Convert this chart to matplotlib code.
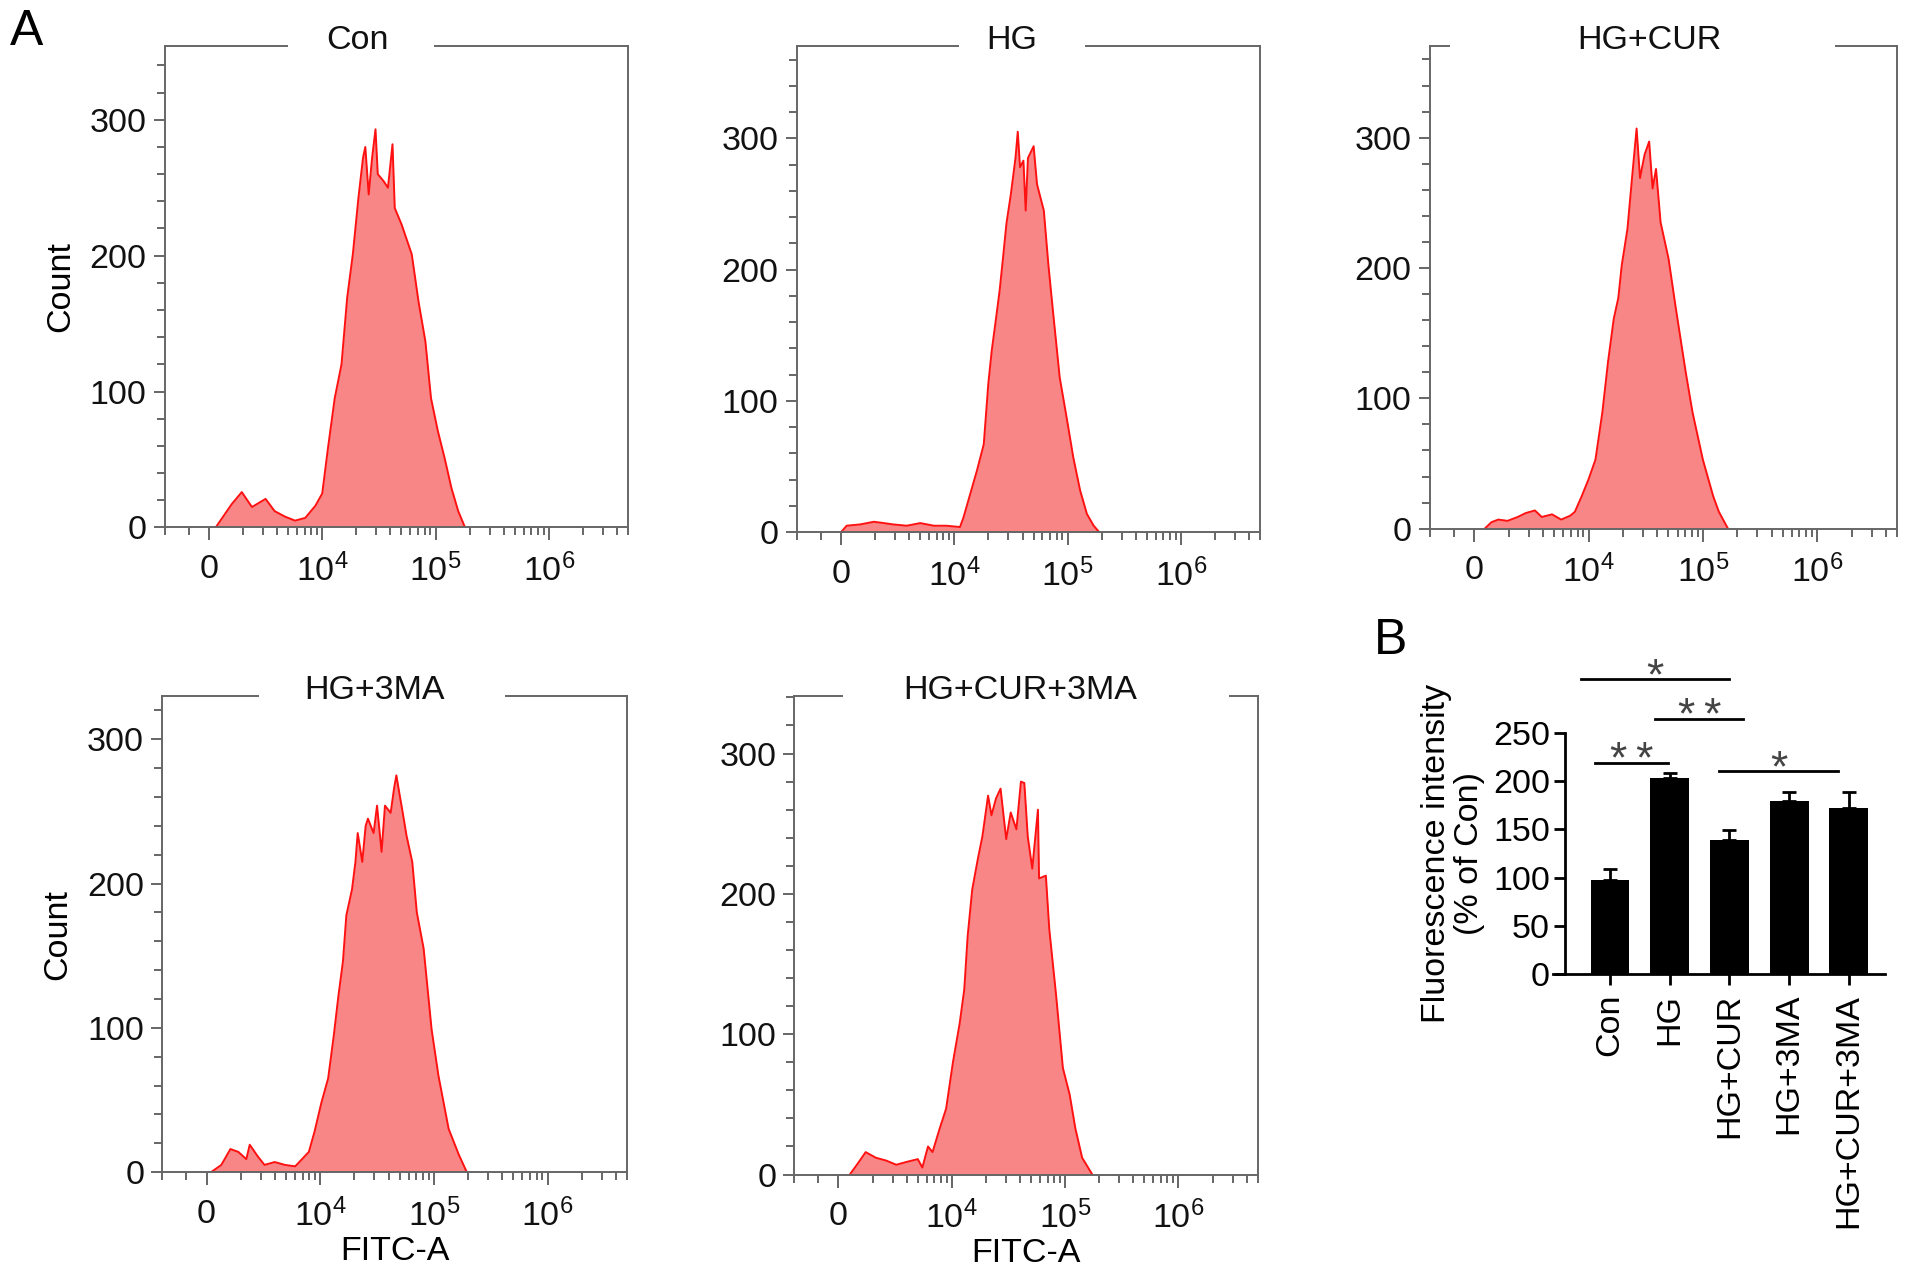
import matplotlib
matplotlib.use("Agg")
import matplotlib.pyplot as plt
import numpy as np

plt.rcParams['font.family'] = ['Liberation Sans', 'DejaVu Sans']
plt.rcParams['mathtext.fontset'] = 'custom'
plt.rcParams['mathtext.rm'] = 'Liberation Sans'
plt.rcParams['mathtext.it'] = 'Liberation Sans:italic'

# ---- histogram data (x in display decades: 0 -> "0", 1 -> 10^4, 2 -> 10^5, 3 -> 10^6) ----
con_u = [0.06, 0.20, 0.29, 0.38, 0.50, 0.58, 0.67, 0.76, 0.85, 0.94, 1.00, 1.05, 1.11, 1.17,
         1.22, 1.27, 1.32, 1.36, 1.38, 1.41, 1.44, 1.47, 1.49, 1.54, 1.58, 1.62, 1.64, 1.70,
         1.79, 1.85, 1.91, 1.96, 2.02, 2.08, 2.14, 2.20, 2.26]
con_c = [0, 17, 26, 15, 21, 12, 8, 5, 7, 16, 25, 58, 95, 120,
         169, 201, 243, 272, 280, 245, 272, 293, 260, 255, 250, 282, 235, 223,
         201, 166, 137, 95, 71, 51, 29, 12, 0]

hg_u = [0.00, 0.05, 0.17, 0.29, 0.38, 0.46, 0.58, 0.70, 0.82, 0.93, 1.05, 1.08, 1.14, 1.20,
        1.26, 1.30, 1.33, 1.37, 1.40, 1.43, 1.46, 1.50, 1.54, 1.56, 1.58, 1.61, 1.63, 1.65,
        1.70, 1.73, 1.79, 1.83, 1.87, 1.93, 1.99, 2.05, 2.11, 2.17, 2.23, 2.28]
hg_c = [0, 5, 6, 8, 7, 6, 5, 7, 5, 5, 4, 11, 29, 47,
        67, 113, 138, 164, 184, 209, 235, 258, 285, 305, 278, 283, 245, 285,
        294, 265, 245, 204, 169, 118, 88, 57, 32, 14, 5, 0]

cur_u = [0.09, 0.15, 0.21, 0.29, 0.38, 0.45, 0.53, 0.59, 0.68, 0.76, 0.84, 0.88, 0.94, 1.00,
         1.06, 1.12, 1.17, 1.22, 1.26, 1.29, 1.34, 1.38, 1.42, 1.45, 1.49, 1.53, 1.56, 1.59,
         1.63, 1.70, 1.76, 1.85, 1.91, 2.00, 2.09, 2.14, 2.22]
cur_c = [0, 5, 7, 6, 9, 12, 14, 9, 11, 7, 10, 13, 25, 38,
         53, 89, 128, 161, 177, 202, 230, 269, 307, 269, 287, 297, 261, 276,
         235, 207, 171, 120, 89, 53, 25, 13, 0]

ma_u = [0.04, 0.13, 0.21, 0.28, 0.35, 0.38, 0.45, 0.51, 0.60, 0.69, 0.78, 0.84, 0.90, 0.95,
        1.01, 1.07, 1.12, 1.16, 1.20, 1.23, 1.28, 1.31, 1.33, 1.37, 1.40, 1.42, 1.47, 1.50,
        1.54, 1.57, 1.62, 1.65, 1.67, 1.70, 1.72, 1.76, 1.81, 1.85, 1.91, 1.98, 2.04, 2.13,
        2.22, 2.29]
ma_c = [0, 5, 16, 14, 9, 19, 11, 5, 7, 5, 4, 9, 14, 28,
        48, 65, 95, 122, 146, 178, 196, 215, 235, 215, 240, 245, 235, 254,
        222, 254, 249, 266, 275, 261, 252, 233, 215, 180, 155, 99, 67, 30,
        12, 0]

cm_u = [0.10, 0.18, 0.24, 0.33, 0.42, 0.51, 0.60, 0.70, 0.74, 0.79, 0.83, 0.89, 0.95, 1.01,
        1.07, 1.11, 1.14, 1.18, 1.23, 1.27, 1.32, 1.35, 1.39, 1.43, 1.48, 1.52, 1.57, 1.61,
        1.64, 1.67, 1.71, 1.76, 1.77, 1.83, 1.86, 1.92, 1.98, 2.04, 2.09, 2.15, 2.24]
cm_c = [0, 9, 16, 12, 10, 7, 9, 11, 5, 20, 16, 32, 47, 80,
        108, 132, 170, 203, 225, 241, 270, 256, 268, 275, 239, 258, 246, 280,
        279, 241, 218, 260, 211, 213, 175, 128, 76, 57, 33, 12, 0]

panel_names = ['Con', 'HG', 'HG+CUR', 'HG+3MA', 'HG+CUR+3MA']
panel_u = [con_u, hg_u, cur_u, ma_u, cm_u]
panel_c = [con_c, hg_c, cur_c, ma_c, cm_c]
panel_ymax = [354, 370, 370, 330, 341]

x_major = [0, 1, 2, 3]
x_major_labels = ['0', r'$10^4$', r'$10^5$', r'$10^6$']

# ---- bar chart data ----
groups = ['Con', 'HG', 'HG+CUR', 'HG+3MA', 'HG+CUR+3MA']
means = [98, 203, 139, 179, 172]
errs = [11, 5, 10, 10, 16]
# (left group, right group, label, bracket height)
sig = [(0, 1, '*\u2009*', 218), (2, 4, '*', 210), (1, 2, '*\u2009*', 264), (0, 2, '*', 305)]
sig_pad = [(-0.25, -0.03), (-0.17, -0.18), (-0.24, 0.23), (-0.49, 0.0)]

# ---- layout ----
fig = plt.figure(figsize=(19.13, 12.82), dpi=100)
rects = [[0.0861, 0.5886, 0.2423, 0.3752],
         [0.4165, 0.5848, 0.2423, 0.3790],
         [0.7474, 0.5876, 0.2443, 0.3762],
         [0.0848, 0.0857, 0.2430, 0.3714],
         [0.4152, 0.0838, 0.2423, 0.3733]]
title_x = [0.416, 0.463, 0.47, 0.457, 0.487]
gaps = [(0.263, 0.584), (0.347, 0.624), (0.042, 0.869), (0.207, 0.740), (0.103, 0.939)]

spine_col = '#666666'
fill_col = '#f98686'
edge_col = '#ff1111'
fs = 24.5

minor_x = [-0.39, -0.18] + [k + np.log10(m) for k in range(3) for m in range(2, 10)] + \
          [3 + np.log10(m) for m in range(2, 6)]

for i, rect in enumerate(rects):
    ax = fig.add_axes(rect)
    u = panel_u[i]
    c = panel_c[i]
    ax.fill_between(u, c, 0, color=fill_col, lw=0)
    ax.plot(u, c, color=edge_col, lw=1.4)
    ax.set_xlim(-0.39, 3.70)
    ax.set_ylim(0, panel_ymax[i])
    ax.set_xticks(x_major)
    ax.set_xticklabels(x_major_labels)
    ax.set_xticks(minor_x, minor=True)
    ax.set_yticks([0, 100, 200, 300])
    ax.set_yticks(np.arange(20, panel_ymax[i], 20), minor=True)
    ax.tick_params(axis='both', which='both', colors=spine_col, labelcolor='#111111',
                   labelsize=fs, width=1.4, direction='out')
    ax.tick_params(axis='x', which='major', length=9, pad=10)
    ax.tick_params(axis='x', which='minor', length=6)
    ax.tick_params(axis='y', which='major', length=8, pad=5)
    ax.tick_params(axis='y', which='minor', length=6)
    for s in ['left', 'right', 'bottom']:
        ax.spines[s].set_color(spine_col)
        ax.spines[s].set_linewidth(1.4)
    ax.spines['top'].set_visible(False)
    g0, g1 = gaps[i]
    ax.plot([0, g0], [1, 1], transform=ax.transAxes, color=spine_col, lw=1.4, clip_on=False)
    ax.plot([g1, 1], [1, 1], transform=ax.transAxes, color=spine_col, lw=1.4, clip_on=False)
    ax.text(title_x[i], 1.012, panel_names[i], transform=ax.transAxes, ha='center',
            va='center', fontsize=fs, color='#111111')
    if i in (0, 3):
        ax.set_ylabel('Count', fontsize=fs, labelpad=10)
    if i >= 3:
        ax.set_xlabel('FITC-A', fontsize=fs, labelpad=2)

fig.text(0.014, 0.975, 'A', fontsize=36, ha='center', va='center')
fig.text(0.727, 0.5, 'B', fontsize=36, ha='center', va='center')

# ---- panel B ----
axb = fig.add_axes([0.8182, 0.24, 0.167, 0.1886])
xpos = np.arange(len(groups))
axb.bar(xpos, means, width=0.65, color='black')
axb.errorbar(xpos, means, yerr=[np.zeros(len(errs)), errs], fmt='none', ecolor='black',
             elinewidth=2, capsize=5, capthick=2)
axb.set_xlim(-0.75, 4.6)
axb.set_ylim(0, 250)
axb.set_yticks([0, 50, 100, 150, 200, 250])
axb.set_xticks(xpos)
axb.set_xticklabels(groups, rotation=90, fontsize=fs)
axb.tick_params(axis='y', labelsize=fs, width=2, length=8, pad=3)
axb.tick_params(axis='x', width=2, length=8, pad=6)
for s in ['top', 'right']:
    axb.spines[s].set_visible(False)
for s in ['left', 'bottom']:
    axb.spines[s].set_linewidth(2)
axb.spines['bottom'].set_bounds(-0.95, 4.6)
axb.set_ylabel('Fluorescence intensity\n(% of Con)', fontsize=fs, labelpad=6, linespacing=1.05)

for (a, b, lab, h), (pl, pr) in zip(sig, sig_pad):
    x0 = xpos[a] + pl
    x1 = xpos[b] + pr
    axb.plot([x0, x1], [h, h], color='black', lw=2, clip_on=False)
    axb.text((x0 + x1) / 2, h - 10, lab, ha='center', va='baseline', fontsize=32,
             color='#444444', clip_on=False)

fig.savefig('out.png', dpi=100)
